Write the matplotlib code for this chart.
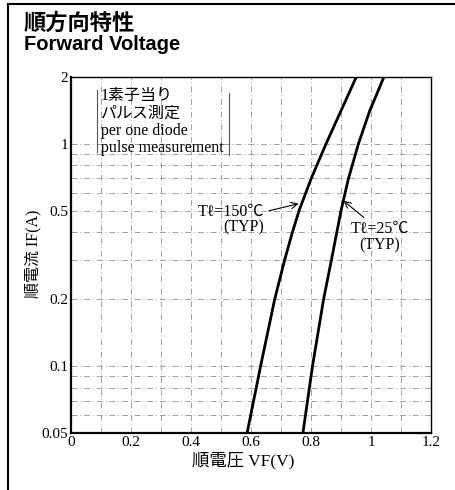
import matplotlib
matplotlib.use("Agg")
import matplotlib.pyplot as plt
from matplotlib.lines import Line2D

# forward voltage curves
if_150 = [0.05, 0.1, 0.2, 0.3, 0.4, 0.5, 0.7, 1.0, 1.4, 2.0]
vf_150 = [0.587, 0.632, 0.679, 0.712, 0.738, 0.760, 0.801, 0.850, 0.899, 0.951]
if_25 = [0.05, 0.1, 0.2, 0.3, 0.5, 0.7, 1.0, 1.4, 2.0]
vf_25 = [0.773, 0.805, 0.842, 0.868, 0.900, 0.925, 0.958, 0.995, 1.043]

x_ticks = [0, 0.2, 0.4, 0.6, 0.8, 1.0, 1.2]
x_labels = ["0", "0.2", "0.4", "0.6", "0.8", "1", "1.2"]
y_ticks = [0.05, 0.1, 0.2, 0.5, 1, 2]
y_labels = ["0.05", "0.1", "0.2", "0.5", "1", "2"]
x_grid = [0.1 * i for i in range(1, 12)]
y_grid = [0.06, 0.07, 0.08, 0.09, 0.1, 0.2, 0.3, 0.4, 0.5, 0.6, 0.7, 0.8, 0.9, 1]

SERIF = ["Liberation Serif", "Noto Sans CJK JP", "DejaVu Serif"]
SANS = ["Noto Sans CJK JP", "DejaVu Sans"]

fig = plt.figure(figsize=(4.55, 4.90), dpi=100)
ax = fig.add_axes([71 / 455, 1 - 433 / 490, 360 / 455, 356 / 490])

for gx in x_grid:
    ax.axvline(gx, color="#a0a0a0", lw=0.7, ls=(0, (6, 3, 1, 3)), zorder=1)
for gy in y_grid:
    ax.axhline(gy, color="#a0a0a0", lw=0.7, ls=(0, (6, 3, 1, 3)), zorder=1)

ax.semilogy(vf_150, if_150, color="black", lw=2.0, zorder=3)
ax.semilogy(vf_25, if_25, color="black", lw=2.0, zorder=3)

ax.set_xlim(0, 1.2)
ax.set_ylim(0.05, 2)
ax.set_xticks(x_ticks)
ax.set_xticklabels(x_labels, family=SERIF, fontsize=11)
ax.set_yticks(y_ticks)
ax.set_yticklabels(y_labels, family=SERIF, fontsize=11)
ax.minorticks_off()
ax.tick_params(length=0, pad=2)

for side in ["left", "bottom"]:
    ax.spines[side].set_linewidth(1.6)
for side in ["top", "right"]:
    ax.spines[side].set_linewidth(1.0)

# note box
ax.text(0.082, 0.968, "1素子当り\nパルス測定\nper one diode\npulse measurement",
        transform=ax.transAxes, ha="left", va="top", fontsize=11.5,
        family=SERIF, linespacing=1.1, zorder=4)
ax.add_line(Line2D([0.072, 0.072], [0.79, 0.963], transform=ax.transAxes,
                   color="#555555", lw=0.8))
ax.add_line(Line2D([0.44, 0.44], [0.78, 0.955], transform=ax.transAxes,
                   color="#555555", lw=0.8))

ax.annotate("Tℓ=150℃\n(TYP)", xy=(0.763, 0.54), xytext=(0.645, 0.455),
            ha="right", va="center", multialignment="right", fontsize=11.5,
            family=SERIF, linespacing=1.0,
            arrowprops=dict(arrowstyle="->", color="black", lw=0.8,
                            relpos=(1.0, 0.75), shrinkA=1, shrinkB=1),
            zorder=4)
ax.annotate("Tℓ=25℃\n(TYP)", xy=(0.905, 0.56), xytext=(1.03, 0.38),
            ha="center", va="center", fontsize=11.5, family=SERIF,
            linespacing=1.0,
            arrowprops=dict(arrowstyle="->", color="black", lw=0.8,
                            relpos=(0.3, 1.0), shrinkA=1, shrinkB=1),
            zorder=4)

fig.text(33 / 455, 1 - 254 / 490, "順電流 IF(A)", rotation=90, ha="center",
         va="center", fontsize=11.5, family=SERIF)
fig.text(243 / 455, 1 - 461 / 490, "順電圧 VF(V)", ha="center", va="center",
         fontsize=12.5, family=SERIF)

# header
fig.text(24 / 455, 1 - 23 / 490, "順方向特性", ha="left", va="center",
         fontsize=16, fontweight="bold", family=SANS)
fig.text(24 / 455, 1 - 44 / 490, "Forward Voltage", ha="left", va="center",
         fontsize=14.5, fontweight="bold", family=["Liberation Sans", "DejaVu Sans"])

# page frame
fig.add_artist(Line2D([8 / 455, 8 / 455], [0, 1 - 4 / 490], transform=fig.transFigure,
                      color="black", lw=1.5))
fig.add_artist(Line2D([8 / 455, 1], [1 - 4 / 490, 1 - 4 / 490], transform=fig.transFigure,
                      color="black", lw=1.5))

fig.savefig("out.png", dpi=100)
